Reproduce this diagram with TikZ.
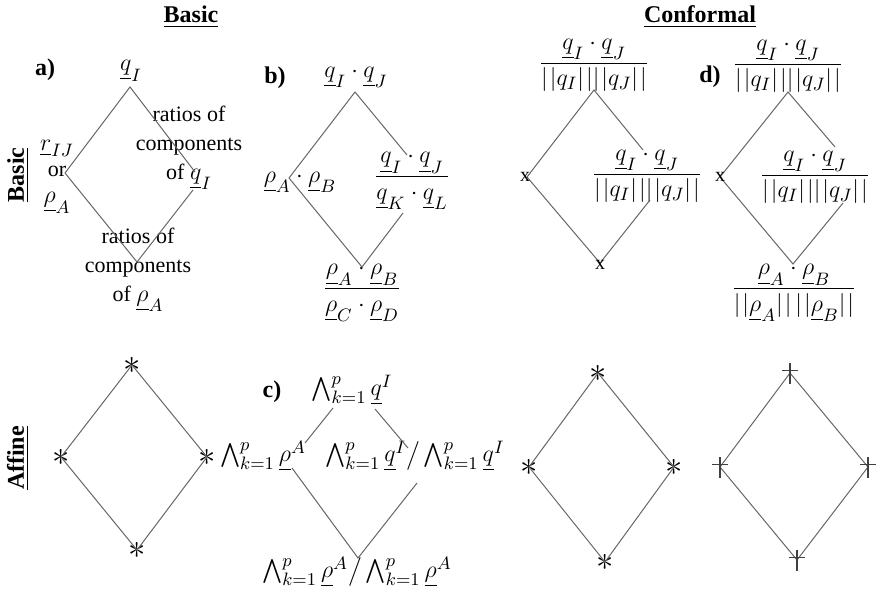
\documentclass[tikz,border=0pt]{standalone}
\usepackage{amsmath}
\usepackage{fontspec}
\setmainfont{Liberation Serif}
\newcommand\mth[1]{{\fontsize{13}{15}\selectfont$#1$}}
\newcommand\nrm[1]{|\mkern1.5mu|#1|\mkern1.5mu|}
\newcommand\plusat[1]{%
  \draw[plusmk] ([xshift=-4pt,yshift=1.2pt]#1) -- ([xshift=4pt,yshift=1.2pt]#1);
  \draw[plusmk] ([yshift=5pt]#1) -- ([yshift=-5.5pt]#1);}
\begin{document}
\begin{tikzpicture}[x=0.5pt,y=-0.5pt,
  every node/.style={font=\fontsize{11}{14.5}\selectfont, inner sep=0pt},
  hd/.style={font=\fontsize{12}{14}\selectfont\bfseries},
  lbl/.style={align=center},
  edge/.style={draw=black!60, line width=0.5pt},
  mk/.style={font=\fontsize{10}{12}\selectfont},
  starmk/.style={font=\fontsize{18}{20}\selectfont},
  plusmk/.style={draw=black!75, line width=0.6pt}]
\useasboundingbox (0,0) rectangle (876,593);

% headings
\node[hd] (hBasic) at (191,17) {\underline{Basic}};
\node[hd] (hConf) at (700,17) {\underline{Conformal}};
\node[hd, rotate=90] (rBasic) at (18,175) {\underline{Basic}};
\node[hd, rotate=90] (rAffine) at (18,458) {\underline{Affine}};

% panel letters
\node[hd] (pa) at (45,70) {a)};
\node[hd] (pb) at (275,78) {b)};
\node[hd] (pc) at (272,392) {c)};
\node[hd] (pd) at (710,77) {d)};

% ---------- a) ----------
\node (a-t) at (131,71) {\mth{\underline{q}_I}};
\node[lbl, font=\fontsize{11}{13}\selectfont] (a-l) at (57,177) {\mth{\underline{r}_{IJ}}\\or\\\mth{\underline{\rho}_A}};
\node[lbl] (a-r) at (189,148) {ratios of\\components\\of \mth{\underline{q}_I}};
\node[lbl] (a-b) at (138,270) {ratios of\\components\\of \mth{\underline{\rho}_A}};
\coordinate (a-top) at (130,87);
\coordinate (a-left) at (65,173);
\coordinate (a-r1) at (195,172);
\coordinate (a-r2) at (193,190);
\coordinate (a-bot) at (137,262);
\draw[edge] (a-left) -- (a-top) -- (a-r1);
\draw[edge] (a-left) -- (a-bot) -- (a-r2);

% ---------- b) ----------
\node (b-t) at (356,77) {\mth{\underline{q}_I\cdot\underline{q}_J}};
\node (b-l) at (300,182) {\mth{\underline{\rho}_A\cdot\underline{\rho}_B}};
\node (b-r) at (412,181) {\mth{\dfrac{\underline{q}_I\cdot\underline{q}_J}{\underline{q}_K\cdot\underline{q}_L}}};
\node (b-b) at (362,293) {\mth{\dfrac{\underline{\rho}_A\cdot\underline{\rho}_B}{\underline{\rho}_C\cdot\underline{\rho}_D}}};
\coordinate (b-top) at (355,92);
\coordinate (b-left) at (289,178);
\coordinate (b-r1) at (407,155);
\coordinate (b-r2) at (403,213);
\coordinate (b-bot) at (362,267);
\draw[edge] (b-left) -- (b-top) -- (b-r1);
\draw[edge] (b-left) -- (b-bot) -- (b-r2);

% ---------- conformal basic (left) ----------
\node (e-t) at (594,65) {\mth{\dfrac{\underline{q}_I\cdot\underline{q}_J}{\nrm{q_I}\nrm{q_J}}}};
\node (e-r) at (647,176) {\mth{\dfrac{\underline{q}_I\cdot\underline{q}_J}{\nrm{q_I}\nrm{q_J}}}};
\coordinate (e-top) at (594,90);
\coordinate (e-left) at (527,177);
\coordinate (e-r1) at (643,150);
\coordinate (e-r2) at (650,200);
\coordinate (e-bot) at (600,263);
\draw[edge] (e-left) -- (e-top) -- (e-r1);
\draw[edge] (e-left) -- (e-bot) -- (e-r2);
\node[mk] (e-xl) at (525,177) {x};
\node[mk] (e-xb) at (600,265) {x};

% ---------- d) ----------
\node (d-t) at (788,66) {\mth{\dfrac{\underline{q}_I\cdot\underline{q}_J}{\nrm{q_I}\nrm{q_J}}}};
\node (d-r) at (815,177) {\mth{\dfrac{\underline{q}_I\cdot\underline{q}_J}{\nrm{q_I}\nrm{q_J}}}};
\node (d-b) at (794,293) {\mth{\dfrac{\underline{\rho}_A\cdot\underline{\rho}_B}{\nrm{\underline{\rho}_A}\,\nrm{\underline{\rho}_B}}}};
\coordinate (d-top) at (788,92);
\coordinate (d-left) at (720,177);
\coordinate (d-r1) at (835,147);
\coordinate (d-r2) at (843,203);
\coordinate (d-bot) at (793,264);
\draw[edge] (d-left) -- (d-top) -- (d-r1);
\draw[edge] (d-left) -- (d-bot) -- (d-r2);
\node[mk] (d-xl) at (720,177) {x};

% ---------- affine basic (stars) ----------
\node[starmk] (f-top) at (132,365) {$\ast$};
\node[starmk] (f-left) at (61,457) {$\ast$};
\node[starmk] (f-right) at (207,457) {$\ast$};
\node[starmk] (f-bot) at (137,550) {$\ast$};
\draw[edge] (f-top.center) -- (f-right.center) -- (f-bot.center) -- (f-left.center) -- cycle;

% ---------- c) ----------
\node (c-t) at (352,390) {\mth{\bigwedge_{k=1}^{p}\underline{q}^I}};
\node (c-l) at (263,456) {\mth{\bigwedge_{k=1}^{p}\underline{\rho}^A}};
\node (c-r) at (415,456) {\mth{\bigwedge_{k=1}^{p}\underline{q}^I\big/\bigwedge_{k=1}^{p}\underline{q}^I}};
\node (c-b) at (357,572) {\mth{\bigwedge_{k=1}^{p}\underline{\rho}^A\big/\bigwedge_{k=1}^{p}\underline{\rho}^A}};
\coordinate (c-1) at (333,408);
\coordinate (c-2) at (305,443);
\coordinate (c-3) at (375,409);
\coordinate (c-4) at (408,448);
\coordinate (c-5) at (292,468);
\coordinate (c-6) at (417,483);
\coordinate (c-bot) at (358,558);
\draw[edge] (c-1) -- (c-2);
\draw[edge] (c-3) -- (c-4);
\draw[edge] (c-5) -- (c-bot) -- (c-6);

% ---------- conformal affine (stars) ----------
\node[starmk] (g-top) at (598,373) {$\ast$};
\node[starmk] (g-left) at (529,467) {$\ast$};
\node[starmk] (g-right) at (674,467) {$\ast$};
\node[starmk] (g-bot) at (605,562) {$\ast$};
\draw[edge] (g-top.center) -- (g-right.center) -- (g-bot.center) -- (g-left.center) -- cycle;

% ---------- plus diamond ----------
\coordinate (h-top) at (790,373);
\coordinate (h-left) at (720,467);
\coordinate (h-right) at (868,467);
\coordinate (h-bot) at (797,560);
\draw[edge] (h-top) -- (h-right) -- (h-bot) -- (h-left) -- cycle;
\plusat{h-top}
\plusat{h-left}
\plusat{h-right}
\plusat{h-bot}
\end{tikzpicture}
\end{document}
